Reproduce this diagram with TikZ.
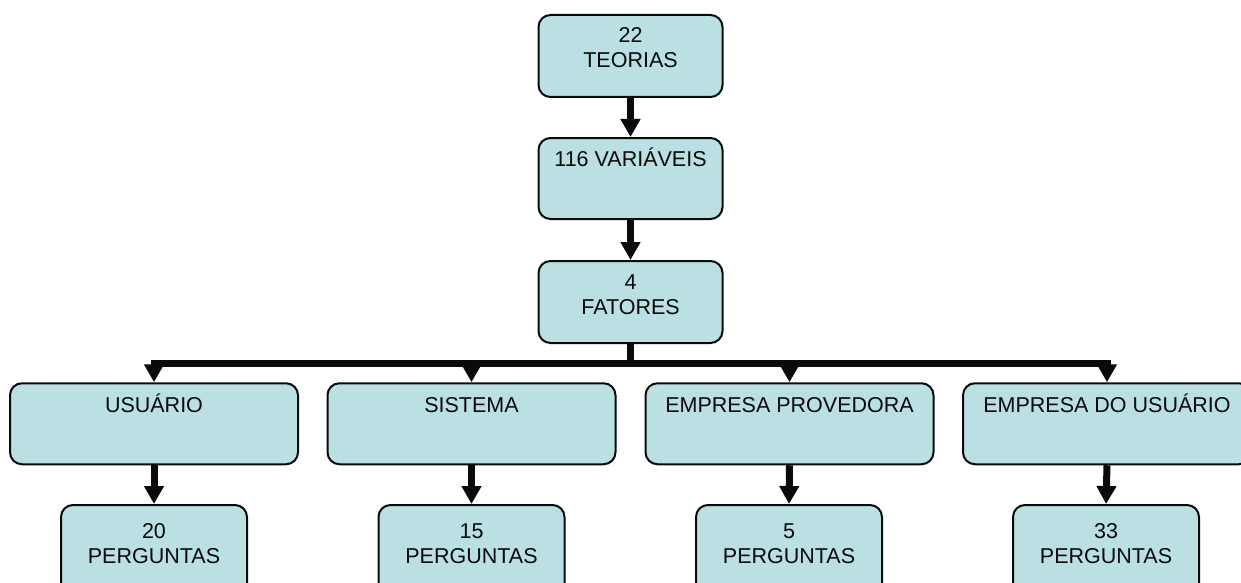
\documentclass[tikz,border=0pt]{standalone}
\usepackage{fontspec}
\setmainfont{Liberation Sans}
\usetikzlibrary{arrows.meta}
\definecolor{boxfill}{RGB}{187,224,227}
\definecolor{inkline}{RGB}{10,10,10}
% box body: width, height, depth of first baseline below the top, text
\newcommand\cellbody[4]{\parbox[c][#2][t]{#1}{\centering\rule{0pt}{#3}#4}}
\tikzset{
  box/.style={draw=inkline, line width=2pt, fill=boxfill, rounded corners=12pt,
    inner sep=0pt, text=inkline, font=\fontsize{21.5}{25}\selectfont},
  arr/.style={draw=inkline, line width=7pt, -{Triangle[length=18pt,width=19pt]}}
}
\begin{document}
\begin{tikzpicture}[x=1pt,y=-1pt]
\useasboundingbox (0,0) rectangle (1241,583);
\clip (0,0) rectangle (1241,583);

% top chain
\node[box] (t) at (630.5,56)   {\cellbody{184pt}{82pt}{28pt}{22\\TEORIAS}};
\node[box] (v) at (630.5,178.5){\cellbody{184pt}{81pt}{28pt}{116 VARIÁVEIS}};
\node[box] (f) at (630.5,302)  {\cellbody{184pt}{82pt}{28pt}{4\\FATORES}};

% factor row
\node[box] (u) at (154,423.75)  {\cellbody{288pt}{81pt}{29pt}{USUÁRIO}};
\node[box] (s) at (471.5,423.75){\cellbody{288pt}{81pt}{29pt}{SISTEMA}};
\node[box] (p) at (789.5,423.75){\cellbody{288pt}{81pt}{29pt}{EMPRESA PROVEDORA}};
\node[box] (e) at (1107,423.75) {\cellbody{288pt}{81pt}{29pt}{EMPRESA DO USUÁRIO}};

% question counts
\node[box] (qu) at (154,551)  {\cellbody{186pt}{92pt}{33pt}{20\\PERGUNTAS}};
\node[box] (qs) at (471.5,551){\cellbody{186pt}{92pt}{33pt}{15\\PERGUNTAS}};
\node[box] (qp) at (789,551)  {\cellbody{186pt}{92pt}{33pt}{5\\PERGUNTAS}};
\node[box] (qe) at (1106,551) {\cellbody{186pt}{92pt}{33pt}{33\\PERGUNTAS}};

% connectors
\coordinate (hub) at (630.5,363);
\draw[arr] (t.south) -- (v.north);
\draw[arr] (v.south) -- (f.north);
\draw[arr] (f.south) -- (hub) -| (u.north);
\draw[arr] (f.south) -- (hub) -| (s.north);
\draw[arr] (f.south) -- (hub) -| (p.north);
\draw[arr] (f.south) -- (hub) -| (e.north);
\draw[arr] (u.south) -- (qu.north);
\draw[arr] (s.south) -- (qs.north);
\draw[arr] (p.south) -- (qp.north);
\draw[arr] (e.south) -- (qe.north);
\end{tikzpicture}
\end{document}
